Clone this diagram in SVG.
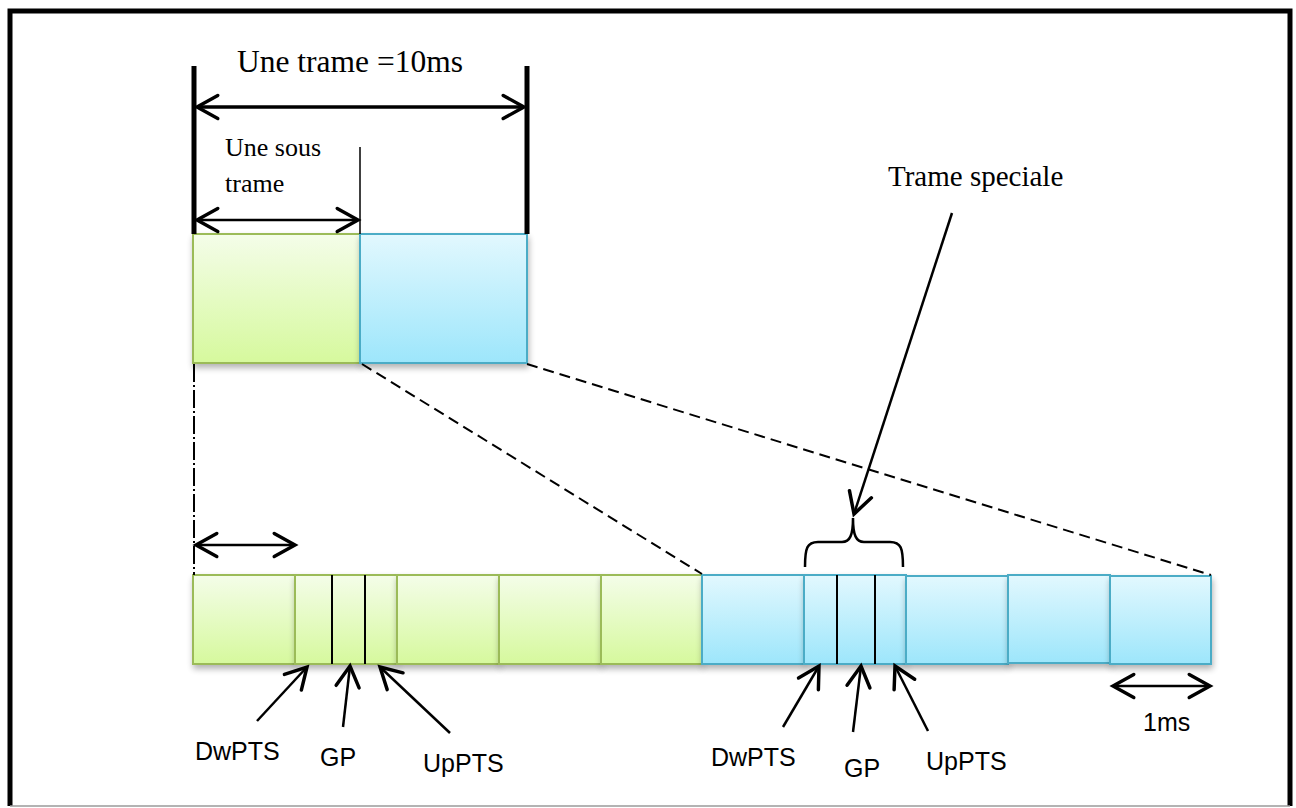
<svg xmlns="http://www.w3.org/2000/svg" width="1296" height="808" viewBox="0 0 1296 808">
<defs>
<linearGradient id="gGreen" x1="0" y1="0" x2="0" y2="1">
<stop offset="0" stop-color="#f4fde9"/><stop offset="1" stop-color="#d6f99d"/>
</linearGradient>
<linearGradient id="gBlue" x1="0" y1="0" x2="0" y2="1">
<stop offset="0" stop-color="#e2f8fe"/><stop offset="1" stop-color="#9de6fb"/>
</linearGradient>
<filter id="sh" x="-10%" y="-10%" width="130%" height="140%">
<feGaussianBlur in="SourceAlpha" stdDeviation="3"/>
<feOffset dx="1" dy="4" result="b"/>
<feComponentTransfer><feFuncA type="linear" slope="0.3"/></feComponentTransfer>
<feMerge><feMergeNode/><feMergeNode in="SourceGraphic"/></feMerge>
</filter>
<marker id="ah" markerUnits="userSpaceOnUse" markerWidth="30" markerHeight="30" viewBox="-22 -13 26 26" refX="0" refY="0" orient="auto-start-reverse">
<path d="M -18 -10 L 0 0 L -18 10" fill="none" stroke="#000" stroke-width="3" stroke-linecap="round" stroke-linejoin="miter"/>
</marker>
</defs>
<style>
.green{fill:url(#gGreen);stroke:#9bbb59;stroke-width:2}
.blue{fill:url(#gBlue);stroke:#4bacc6;stroke-width:2}
.arr{fill:none;stroke:#000;stroke-width:2.5}
.ser{font-family:"Liberation Serif","Times New Roman",serif;fill:#000}
.sans{font-family:"Liberation Sans",Arial,sans-serif;font-size:25px;fill:#000}
.dash{fill:none;stroke:#000;stroke-width:2;stroke-dasharray:11 6}
</style>

<g id="frame">
<path d="M10 806 L10 11 L1290 11 L1290 806" fill="none" stroke="#000" stroke-width="5"/>
<line x1="10" y1="806" x2="1290" y2="806" stroke="#9a9a9a" stroke-width="1.5"/>
</g>

<g id="top-frame">
<rect id="top-green" class="green" x="193" y="234" width="167" height="129" filter="url(#sh)"/>
<rect id="top-blue" class="blue" x="360" y="234" width="167" height="129" filter="url(#sh)"/>
<line x1="194" y1="66" x2="194" y2="234" stroke="#000" stroke-width="5"/>
<line x1="527" y1="66" x2="527" y2="234" stroke="#000" stroke-width="5"/>
<line x1="360" y1="147" x2="360" y2="234" stroke="#000" stroke-width="1.5"/>
</g>

<g id="labels-top">
<text class="ser" x="237" y="72" font-size="31.5">Une trame =10ms</text>
<text class="ser" x="225" y="156" font-size="26">Une sous</text>
<text class="ser" x="225" y="192" font-size="26">trame</text>
<text class="ser" x="888" y="186" font-size="29">Trame speciale</text>
</g>

<g id="bottom-green">
<rect class="green" x="193" y="575" width="102" height="89" filter="url(#sh)"/>
<rect class="green" x="295" y="575" width="102" height="89" filter="url(#sh)"/>
<rect class="green" x="397" y="575" width="102" height="89" filter="url(#sh)"/>
<rect class="green" x="499" y="575" width="102" height="89" filter="url(#sh)"/>
<rect class="green" x="601" y="575" width="101" height="89" filter="url(#sh)"/>
<line x1="332" y1="575" x2="332" y2="664" stroke="#000" stroke-width="2"/>
<line x1="365" y1="575" x2="365" y2="664" stroke="#000" stroke-width="2"/>
</g>

<g id="bottom-blue">
<rect class="blue" x="702" y="575" width="102" height="89" filter="url(#sh)"/>
<rect class="blue" x="804" y="575" width="102" height="89" filter="url(#sh)"/>
<rect class="blue" x="906" y="576" width="102" height="88" filter="url(#sh)"/>
<rect class="blue" x="1008" y="575" width="102" height="88" filter="url(#sh)"/>
<rect class="blue" x="1110" y="576" width="101" height="88" filter="url(#sh)"/>
<line x1="837" y1="575" x2="837" y2="664" stroke="#000" stroke-width="2"/>
<line x1="875" y1="575" x2="875" y2="664" stroke="#000" stroke-width="2"/>
</g>

<g id="connectors">
<line x1="197" y1="107" x2="524" y2="107" fill="none" stroke="#000" stroke-width="3.5" marker-start="url(#ah)" marker-end="url(#ah)"/>
<line x1="197" y1="220" x2="358" y2="220" class="arr" marker-start="url(#ah)" marker-end="url(#ah)"/>
<line x1="196" y1="545" x2="295" y2="545" class="arr" marker-start="url(#ah)" marker-end="url(#ah)"/>
<line x1="1113" y1="686" x2="1210" y2="686" class="arr" marker-start="url(#ah)" marker-end="url(#ah)"/>
<line x1="194" y1="364" x2="194" y2="575" fill="none" stroke="#000" stroke-width="2" stroke-dasharray="18 3 2 3"/>
<line x1="362" y1="364" x2="702" y2="574" class="dash"/>
<line x1="527" y1="364" x2="1211" y2="575" class="dash"/>
<line x1="952" y1="213" x2="854" y2="514" class="arr" marker-end="url(#ah)"/>
<path d="M805 567 C805 548 807 542 818 542 L842 542 C850 542 853 535 853 518 C853 535 856 542 864 542 L890 542 C901 542 903 548 903 567" class="arr"/>
<line x1="257" y1="721" x2="307" y2="667" class="arr" marker-end="url(#ah)"/>
<line x1="343" y1="727" x2="350" y2="666" class="arr" marker-end="url(#ah)"/>
<line x1="450" y1="733" x2="380" y2="667" class="arr" marker-end="url(#ah)"/>
<line x1="783" y1="727" x2="819" y2="666" class="arr" marker-end="url(#ah)"/>
<line x1="853" y1="732" x2="861" y2="666" class="arr" marker-end="url(#ah)"/>
<line x1="928" y1="731" x2="895" y2="666" class="arr" marker-end="url(#ah)"/>
</g>

<g id="labels-bottom">
<text class="sans" x="195" y="760">DwPTS</text>
<text class="sans" x="320" y="766">GP</text>
<text class="sans" x="423" y="772">UpPTS</text>
<text class="sans" x="711" y="766">DwPTS</text>
<text class="sans" x="844" y="777">GP</text>
<text class="sans" x="926" y="770">UpPTS</text>
<text class="sans" x="1143" y="731">1ms</text>
</g>
</svg>
